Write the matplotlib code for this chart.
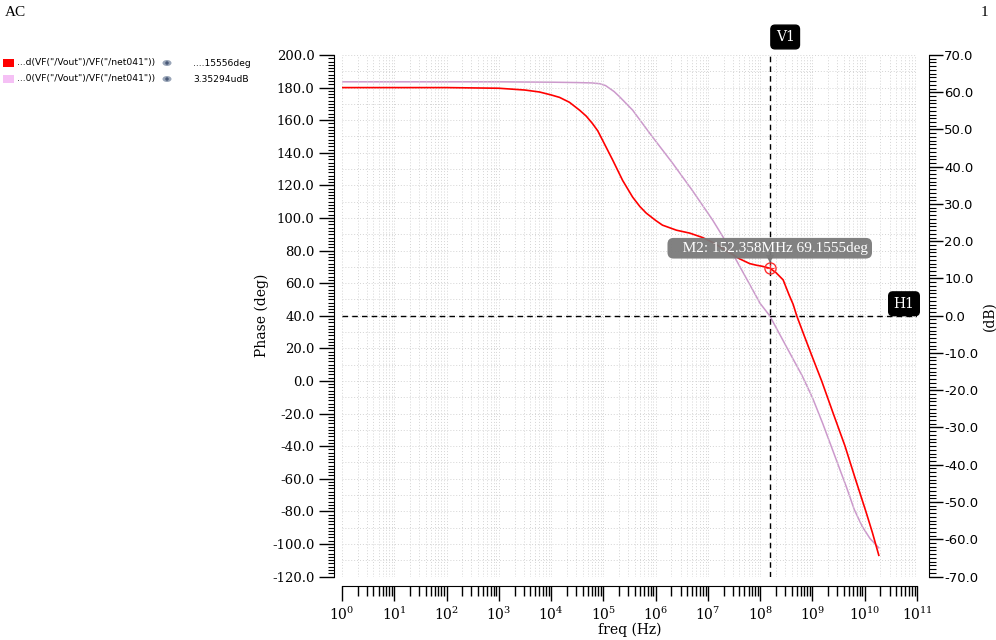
import numpy as np
import matplotlib
matplotlib.use("Agg")
import matplotlib.pyplot as plt
import matplotlib.transforms as mtransforms
from matplotlib.ticker import LogLocator, MultipleLocator, FuncFormatter, NullFormatter
from matplotlib.patches import Ellipse, Rectangle

plt.rcParams['mathtext.fontset'] = 'dejavuserif'

# phase of VF("/Vout")/VF("/net041")  (deg, left axis)
phase_freq = [1, 100, 1e3, 3.16e3, 6.0e3, 1e4, 1.45e4, 2.24e4, 3.55e4, 4.7e4,
              6.17e4, 7.8e4, 9.55e4, 1.51e5, 2.34e5, 3.63e5, 5.0e5, 6.6e5, 1e6,
              1.35e6, 2.5e6, 4.5e6, 7.9e6, 1.23e7, 2.24e7, 4.0e7, 6.3e7, 8.5e7,
              1.12e8, 1.52358e8, 2.0e8, 2.75e8, 3.55e8, 4.27e8, 5.0e8, 7.1e8,
              1e9, 1.5e9, 2.5e9, 4.2e9, 6.6e9, 1.05e10, 1.4e10, 1.86e10]
phase_deg = [180, 180, 179.6, 178.5, 177.3, 175.5, 174, 171, 166, 162.5,
             158, 153.5, 148, 135.5, 123, 112.8, 107, 103, 98.5,
             95.6, 92.5, 90.7, 88, 85, 80, 75, 72, 71,
             70.3, 69.1555, 66.5, 62, 53, 47, 40, 27,
             14.5, 0, -20, -40, -60, -80, -93, -107]

# magnitude of VF("/Vout")/VF("/net041")  (dB, right axis)
mag_freq = [1, 1e3, 1e4, 3.16e4, 6e4, 8.5e4, 1.1e5, 1.6e5, 2.04e5, 3.63e5,
            8.7e5, 2.1e6, 5.0e6, 1.23e7, 2.57e7, 3.5e7, 1e8, 1.52e8, 4.1e8,
            6.3e8, 1e9, 1.58e9, 2.5e9, 4.47e9, 6.3e9, 8.9e9, 1.26e10, 1.86e10]
mag_db = [62.8, 62.8, 62.7, 62.6, 62.5, 62.3, 61.8, 60.2, 58.8, 55.2,
          48.0, 41.0, 33.7, 25.7, 18.4, 14.9, 3.3, 0, -11.2,
          -16, -22, -29, -36.5, -46, -52, -56.5, -59.8, -62.3]

m2_freq = 152.358e6
m2_phase = 69.1555
h1_db = 0.0

fig = plt.figure(figsize=(9.96, 6.4), dpi=100)
ax = fig.add_axes([342 / 996, 1 - 576.5 / 640, 575 / 996, 521.5 / 640])
ax2 = ax.twinx()

ax.set_xscale('log')
ax.set_xlim(1, 1e11)
ax.set_ylim(-120, 200)
ax2.set_ylim(-70, 70)

grid_c = '#d4d4d4'
ax.xaxis.set_major_locator(LogLocator(base=10, numticks=20))
ax.xaxis.set_minor_locator(LogLocator(base=10, subs=np.arange(2, 10), numticks=200))
ax.xaxis.set_minor_formatter(NullFormatter())
ax.xaxis.set_major_formatter(FuncFormatter(lambda v, p: r'$10^{%d}$' % round(np.log10(v))))
ax.grid(True, which='both', axis='x', color=grid_c, linestyle=(0, (1, 2)), linewidth=0.7)
for v in np.arange(-120, 201, 10):
    ax.axhline(v, color=grid_c, linestyle=(0, (1, 2)), linewidth=0.7, zorder=0)

ax.yaxis.set_major_locator(MultipleLocator(20))
ax.yaxis.set_minor_locator(MultipleLocator(2))
ax.yaxis.set_major_formatter(FuncFormatter(lambda v, p: '%.1f' % v))
ax2.yaxis.set_major_locator(MultipleLocator(10))
ax2.yaxis.set_minor_locator(MultipleLocator(1))
ax2.yaxis.set_major_formatter(FuncFormatter(lambda v, p: '%.1f' % v))

for a in (ax, ax2):
    a.spines['top'].set_visible(False)
ax.spines['left'].set_position(('outward', 5.8))
ax.spines['bottom'].set_position(('outward', 6.8))
ax.spines['right'].set_visible(False)
ax2.spines['left'].set_visible(False)
ax2.spines['bottom'].set_visible(False)
ax2.spines['right'].set_position(('outward', 8.6))

ax.tick_params(axis='x', which='major', direction='out', length=11, width=1, pad=3,
               labelsize=10, labelfontfamily='DejaVu Serif')
ax.tick_params(axis='x', which='minor', direction='out', length=7, width=1)
ax.tick_params(axis='y', which='major', direction='out', length=11, width=1, pad=3,
               labelsize=9.5, labelfontfamily='DejaVu Serif')
ax.tick_params(axis='y', which='minor', direction='out', length=4, width=0.8)
ax2.tick_params(axis='y', which='major', direction='out', length=10, width=1, pad=1,
                labelsize=9.5, labelfontfamily='DejaVu Sans')
ax2.tick_params(axis='y', which='minor', direction='out', length=5, width=0.8)

ax.set_xlabel('freq (Hz)', family='DejaVu Serif', fontsize=10, labelpad=0)
ax.set_ylabel('Phase (deg)', family='DejaVu Serif', fontsize=10, labelpad=2)
ax2.set_ylabel('(dB)', family='DejaVu Serif', fontsize=10, labelpad=3)

ax2.plot(mag_freq, mag_db, color='#cc99cc', linewidth=1.1, zorder=3)
ax.plot(phase_freq, phase_deg, color='#ff0000', linewidth=1.2, zorder=4)
ax.set_zorder(ax2.get_zorder() + 1)
ax.patch.set_visible(False)

# cursors (H1 lives on the dB scale, drawn on the top axes)
h1_trans = mtransforms.blended_transform_factory(ax.transAxes, ax2.transData)
ax.axvline(m2_freq, color='black', linestyle=(0, (4, 3)), linewidth=1.0, zorder=5)
ax.plot([0, 1], [h1_db, h1_db], transform=h1_trans, color='black',
        linestyle=(0, (4, 3)), linewidth=1.0, zorder=5)
ax.annotate('V1', xy=(m2_freq, 1), xycoords=('data', 'axes fraction'),
            xytext=(6, 18), textcoords='offset pixels', ha='left', va='center',
            color='white', family='DejaVu Serif', fontsize=10, annotation_clip=False,
            bbox=dict(boxstyle='round,pad=0.35,rounding_size=0.3', fc='black', ec='black'))
ax.annotate('H1', xy=(1, h1_db), xycoords=h1_trans,
            xytext=(-13, 12), textcoords='offset pixels', ha='center', va='center',
            color='white', family='DejaVu Serif', fontsize=10, annotation_clip=False,
            zorder=8,
            bbox=dict(boxstyle='round,pad=0.35,rounding_size=0.3', fc='black', ec='black'))

# marker M2
ax.plot([m2_freq], [m2_phase], marker='o', markersize=8, markerfacecolor='none',
        markeredgecolor='#ff3030', markeredgewidth=1.0, zorder=6)
ax.plot([m2_freq], [m2_phase], marker='+', markersize=6, color='#ff3030',
        markeredgewidth=0.8, zorder=6)
ax.annotate('   M2: 152.358MHz 69.1555deg', xy=(m2_freq, m2_phase),
            xytext=(0, 20), textcoords='offset pixels', ha='center', va='center',
            color='white', family='Liberation Serif', fontsize=11, zorder=7,
            bbox=dict(boxstyle='round,pad=0.25,rounding_size=0.4', fc='#7a7a7a', ec='none', alpha=0.95))
ax.plot([m2_freq], [m2_phase], marker='v', markersize=6, color='#7a7a7a',
        markeredgewidth=0, zorder=6.5,
        transform=ax.transData + mtransforms.ScaledTranslation(0, 9 / 100, fig.dpi_scale_trans))

# header texts
fig.text(5 / 996, 1 - 12 / 640, 'AC', family='Liberation Serif', fontsize=11, va='center')
fig.text(981 / 996, 1 - 12 / 640, '1', family='Liberation Serif', fontsize=11, va='center')

# legend rows
legend_rows = [('#ff0000', '...d(VF("/Vout")/VF("/net041"))', '....15556deg', 63),
               ('#f5c0f5', '...0(VF("/Vout")/VF("/net041"))', '3.35294udB', 79)]
for col, name, val, yp in legend_rows:
    fig.patches.append(Rectangle((3 / 996, 1 - (yp + 4) / 640), 11 / 996, 8 / 640,
                                 transform=fig.transFigure, fc=col, ec='none'))
    fig.text(17 / 996, 1 - yp / 640, name, family='DejaVu Sans', fontsize=6.6, va='center')
    fig.patches.append(Ellipse((167 / 996, 1 - yp / 640), 9 / 996, 6 / 640,
                               transform=fig.transFigure, fc='#9aa6b8', ec='none'))
    fig.patches.append(Ellipse((167 / 996, 1 - yp / 640), 3.5 / 996, 3.5 / 640,
                               transform=fig.transFigure, fc='#4a5a78', ec='none'))
    fig.text(193 / 996, 1 - yp / 640, val, family='DejaVu Sans', fontsize=6.6, va='center')

fig.savefig('out.png', dpi=100)
